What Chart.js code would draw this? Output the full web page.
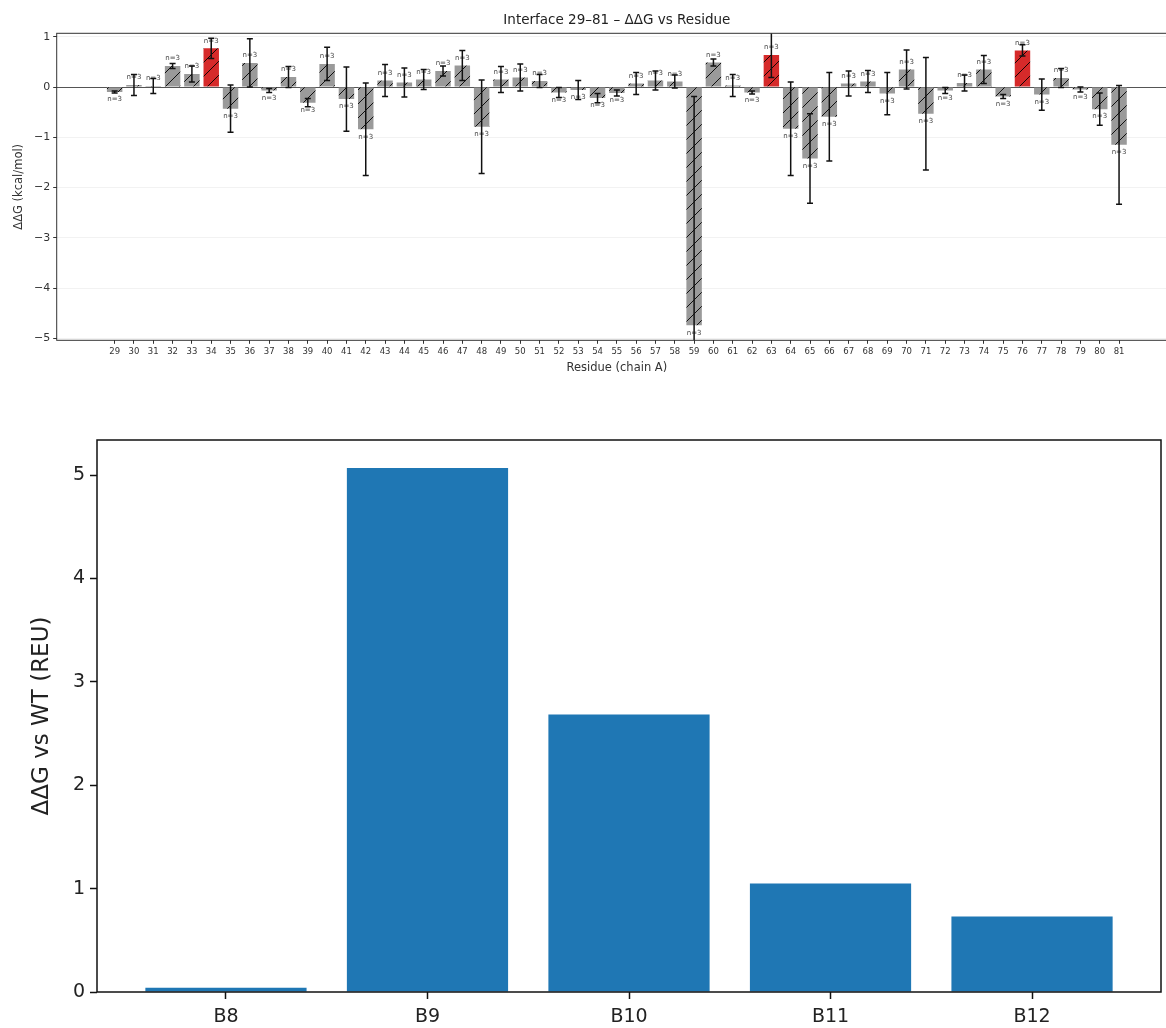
<!DOCTYPE html>
<html>
<head>
<meta charset="utf-8">
<title>Interface ΔΔG</title>
<script src="https://cdn.jsdelivr.net/npm/chart.js@4.4.1/dist/chart.umd.min.js"></script>
<style>
  html, body { margin: 0; padding: 0; background: #fff; overflow: hidden; width: 1166px; height: 1028px; }
  #top { position: absolute; left: 0; top: 0; width: 1180px; height: 385px; }
  #bottom { position: absolute; left: 0; top: 400px; width: 1166px; height: 628px; }
</style>
</head>
<body>
<div id="top"><canvas id="residueChart"></canvas></div>
<div id="bottom"><canvas id="variantChart"></canvas></div>
<script>
// Per-residue interface ΔΔG (kcal/mol), mean ± error, chain A
const residues = [29, 30, 31, 32, 33, 34, 35, 36, 37, 38, 39, 40, 41, 42, 43, 44, 45, 46, 47, 48,
                  49, 50, 51, 52, 53, 54, 55, 56, 57, 58, 59, 60, 61, 62, 63, 64, 65, 66, 67, 68,
                  69, 70, 71, 72, 73, 74, 75, 76, 77, 78, 79, 80, 81];
const ddg = [-0.10, 0.04, 0.02, 0.42, 0.26, 0.77, -0.43, 0.48, -0.07, 0.20, -0.31, 0.46, -0.24, -0.84, 0.13, 0.09, 0.15, 0.32, 0.43, -0.79,
             0.15, 0.19, 0.12, -0.11, -0.06, -0.22, -0.12, 0.07, 0.13, 0.11, -4.74, 0.49, 0.03, -0.11, 0.64, -0.83, -1.42, -0.59, 0.07, 0.11,
             -0.13, 0.35, -0.53, -0.07, 0.08, 0.35, -0.19, 0.73, -0.15, 0.18, -0.05, -0.44, -1.15];
const ddgErr = [0.02, 0.21, 0.15, 0.05, 0.16, 0.20, 0.47, 0.48, 0.04, 0.21, 0.08, 0.33, 0.64, 0.92, 0.32, 0.29, 0.20, 0.10, 0.30, 0.93,
                0.26, 0.27, 0.13, 0.10, 0.19, 0.09, 0.06, 0.22, 0.19, 0.13, 4.55, 0.07, 0.22, 0.03, 0.45, 0.93, 0.89, 0.88, 0.25, 0.22,
                0.42, 0.39, 1.12, 0.06, 0.16, 0.28, 0.04, 0.11, 0.31, 0.19, 0.05, 0.32, 1.18];
const nReps = [3, 3, 3, 3, 3, 3, 3, 3, 3, 3, 3, 3, 3, 3, 3, 3, 3, 3, 3, 3,
               3, 3, 3, 3, 3, 3, 3, 3, 3, 3, 3, 3, 3, 3, 3, 3, 3, 3, 3, 3,
               3, 3, 3, 3, 3, 3, 3, 3, 3, 3, 3, 3, 3];
const highlighted = [34, 63, 76];
const residueTicksY = [-5, -4, -3, -2, -1, 0, 1];

// Design variants, ΔΔG relative to wild type (REU)
const variants = ['B8', 'B9', 'B10', 'B11', 'B12'];
const variantDdg = [0.04, 5.07, 2.685, 1.05, 0.73];
const variantTicksY = [0, 1, 2, 3, 4, 5];

const FONT = 'DejaVu Sans';
Chart.defaults.font.family = FONT;

function hatchPattern(fill) {
  const s = 14;
  const c = document.createElement('canvas');
  c.width = s; c.height = s;
  const g = c.getContext('2d');
  g.fillStyle = fill;
  g.fillRect(0, 0, s, s);
  g.strokeStyle = 'rgba(0,0,0,0.9)';
  g.lineWidth = 1;
  g.beginPath();
  g.moveTo(0, s); g.lineTo(s, 0);
  g.moveTo(-2, 2); g.lineTo(2, -2);
  g.moveTo(s - 2, s + 2); g.lineTo(s + 2, s - 2);
  g.stroke();
  return g.createPattern(c, 'repeat');
}
const grayHatch = hatchPattern('#9a9a9a');
const redHatch = hatchPattern('#d62a2a');

const unicodeMinus = v => (v < 0 ? '\u2212' + Math.abs(v) : String(v));

// Error bars and replicate counts for the residue chart
const errorBarsPlugin = {
  id: 'errorBars',
  afterDatasetsDraw(chart) {
    const { ctx, chartArea: a, scales: { x, y } } = chart;
    ctx.save();
    ctx.font = '7px "' + FONT + '"';
    ctx.fillStyle = '#444';
    ctx.textAlign = 'center';
    ctx.textBaseline = 'middle';
    residues.forEach((r, i) => {
      const px = x.getPixelForValue(r);
      const py = y.getPixelForValue(ddg[i]);
      ctx.fillText('n=' + nReps[i], px, py + (ddg[i] >= 0 ? -7.5 : 7.5));
    });
    ctx.beginPath();
    ctx.rect(a.left, a.top, a.right - a.left, a.bottom - a.top);
    ctx.clip();
    ctx.strokeStyle = '#111';
    ctx.lineWidth = 1.5;
    residues.forEach((r, i) => {
      const px = x.getPixelForValue(r);
      const hi = y.getPixelForValue(ddg[i] + ddgErr[i]);
      const lo = y.getPixelForValue(ddg[i] - ddgErr[i]);
      ctx.beginPath();
      ctx.moveTo(px, hi); ctx.lineTo(px, lo);
      ctx.moveTo(px - 3, hi); ctx.lineTo(px + 3, hi);
      ctx.moveTo(px - 3, lo); ctx.lineTo(px + 3, lo);
      ctx.stroke();
    });
    ctx.restore();
  }
};

// Axes frame (all four spines) plus optional centred title
const framePlugin = {
  id: 'frame',
  afterDraw(chart, args, opts) {
    const { ctx, chartArea: a } = chart;
    ctx.save();
    ctx.strokeStyle = opts.color;
    ctx.lineWidth = opts.width;
    ctx.strokeRect(a.left, a.top, a.right - a.left, a.bottom - a.top);
    if (opts.title) {
      ctx.font = opts.titleSize + 'px "' + FONT + '"';
      ctx.fillStyle = '#222';
      ctx.textAlign = 'center';
      ctx.textBaseline = 'middle';
      ctx.fillText(opts.title, (a.left + a.right) / 2, opts.titleY);
    }
    ctx.restore();
  }
};

new Chart(document.getElementById('residueChart'), {
  type: 'bar',
  data: {
    datasets: [{
      data: residues.map((r, i) => ({ x: r, y: ddg[i] })),
      backgroundColor: residues.map(r => (highlighted.includes(r) ? redHatch : grayHatch)),
      borderWidth: 0,
      barPercentage: 0.8,
      categoryPercentage: 1.0
    }]
  },
  options: {
    responsive: true,
    maintainAspectRatio: false,
    animation: false,
    layout: { padding: { left: 0, right: 3, top: 33.3, bottom: 0 } },
    plugins: {
      legend: { display: false },
      tooltip: { enabled: false },
      frame: { color: '#333', width: 1, title: 'Interface 29\u201381 \u2013 \u0394\u0394G vs Residue', titleSize: 13.5, titleY: 20.5 }
    },
    scales: {
      x: {
        type: 'linear',
        offset: false,
        min: 26,
        max: 84,
        afterBuildTicks: s => { s.ticks = residues.map(v => ({ value: v })); },
        afterFit: s => { s.height = 44.7; },
        ticks: { font: { size: 8.5 }, color: '#333', padding: 3, autoSkip: false, maxRotation: 0, callback: v => String(v) },
        grid: { offset: false, drawOnChartArea: false, drawTicks: true, tickLength: 3.5, tickColor: '#333', tickWidth: 1 },
        border: { display: false },
        title: { display: true, text: 'Residue (chain A)', font: { size: 11.5 }, color: '#333', padding: { top: 0, bottom: 10.4 } }
      },
      y: {
        min: -5.04,
        max: 1.07,
        afterBuildTicks: s => { s.ticks = residueTicksY.map(v => ({ value: v })); },
        afterFit: s => { s.width = 56.7; },
        ticks: { font: { size: 11 }, color: '#333', padding: 3, callback: unicodeMinus },
        grid: {
          color: c => (c.tick && c.tick.value === 0 ? '#555' : 'rgba(0,0,0,0.05)'),
          lineWidth: 1,
          tickLength: 3.5,
          tickColor: '#333',
          tickWidth: 1
        },
        border: { display: false },
        title: { display: true, text: '\u0394\u0394G (kcal/mol)', font: { size: 11.5 }, color: '#333', padding: { top: 12.1, bottom: 0 } }
      }
    }
  },
  plugins: [errorBarsPlugin, framePlugin]
});

new Chart(document.getElementById('variantChart'), {
  type: 'bar',
  data: {
    datasets: [{
      data: variants.map((v, i) => ({ x: i, y: variantDdg[i] })),
      backgroundColor: '#1f77b4',
      borderWidth: 0,
      barPercentage: 0.8,
      categoryPercentage: 1.0
    }]
  },
  options: {
    responsive: true,
    maintainAspectRatio: false,
    animation: false,
    layout: { padding: { left: 0, right: 5, top: 40, bottom: 0 } },
    plugins: {
      legend: { display: false },
      tooltip: { enabled: false },
      frame: { color: '#111', width: 1.5 }
    },
    scales: {
      x: {
        type: 'linear',
        offset: false,
        min: -0.64,
        max: 4.64,
        afterBuildTicks: s => { s.ticks = variants.map((v, i) => ({ value: i })); },
        afterFit: s => { s.height = 36; },
        ticks: { font: { size: 19 }, color: '#222', padding: 6.6, autoSkip: false, maxRotation: 0, callback: v => variants[v] },
        grid: { offset: false, drawOnChartArea: false, tickLength: 7, tickColor: '#111', tickWidth: 1.5 },
        border: { display: false }
      },
      y: {
        min: 0,
        max: 5.34,
        afterBuildTicks: s => { s.ticks = variantTicksY.map(v => ({ value: v })); },
        afterFit: s => { s.width = 97; },
        ticks: { font: { size: 19 }, color: '#222', padding: 5 },
        grid: { drawOnChartArea: false, tickLength: 7, tickColor: '#111', tickWidth: 1.5 },
        border: { display: false },
        title: { display: true, text: '\u0394\u0394G vs WT (REU)', font: { size: 23 }, color: '#222', padding: { top: 28.2, bottom: 0 } }
      }
    }
  },
  plugins: [framePlugin]
});
</script>
</body>
</html>
